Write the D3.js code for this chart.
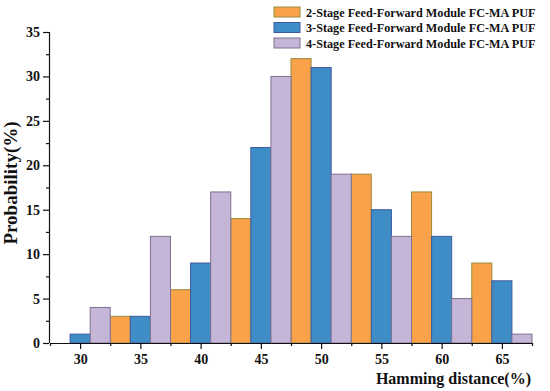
<!DOCTYPE html>
<html>
<head>
<meta charset="utf-8">
<script src="https://cdn.jsdelivr.net/npm/d3@7"></script>
<style>
  body { margin: 0; background: #fff; }
  svg { display: block; }
  text { font-family: "Liberation Serif", "Times New Roman", serif !important; font-weight: bold; fill: #111; }
</style>
</head>
<body>
<div id="chart"></div>
<script>
const categories = [30, 35, 40, 45, 50, 55, 60, 65];
const seriesNames = [
  "2-Stage Feed-Forward Module FC-MA PUF",
  "3-Stage Feed-Forward Module FC-MA PUF",
  "4-Stage Feed-Forward Module FC-MA PUF"
];
const stage2 = [0, 3, 6, 14, 32, 19, 17, 9];
const stage3 = [1, 3, 9, 22, 31, 15, 12, 7];
const stage4 = [4, 12, 17, 30, 19, 12, 5, 1];
const yTicks = [0, 5, 10, 15, 20, 25, 30, 35];
const xTicks = [30, 35, 40, 45, 50, 55, 60, 65];

const fills = ["#F9A24A", "#3F8DC6", "#C5B6D8"];
const strokes = ["#9C8A3C", "#3E5A9E", "#7E7090"];
const series = [stage2, stage3, stage4];

const W = 550, H = 391;
const svg = d3.select("#chart").append("svg").attr("width", W).attr("height", H);

const x = d3.scaleLinear().domain([27.5, 67.5]).range([50, 532]);
const y = d3.scaleLinear().domain([0, 35]).range([343, 32]);
const barW = 5 / 3;

// bars
series.forEach((vals, si) => {
  svg.append("g").selectAll("rect")
    .data(categories.map((c, i) => ({ c, v: vals[i] })).filter(d => d.v > 0))
    .join("rect")
    .attr("x", d => x(d.c - 2.5 + si * barW))
    .attr("width", d => x(d.c - 2.5 + (si + 1) * barW) - x(d.c - 2.5 + si * barW))
    .attr("y", d => y(d.v))
    .attr("height", d => y(0) - y(d.v))
    .attr("fill", fills[si])
    .attr("stroke", strokes[si])
    .attr("stroke-width", 1);
});

// y axis
const yAxis = svg.append("g").attr("transform", "translate(49,0)")
  .call(d3.axisLeft(y).tickValues(yTicks).tickSize(6).tickPadding(3));
svg.append("g").attr("transform", "translate(49,0)")
  .call(d3.axisLeft(y).tickValues(d3.range(2.5, 35, 5)).tickSize(3).tickFormat(""))
  .select(".domain").remove();

// x axis
const xAxis = svg.append("g").attr("transform", "translate(0,343)")
  .call(d3.axisBottom(x).tickValues(xTicks).tickSize(6).tickPadding(5).tickSizeOuter(0));
svg.append("g").attr("transform", "translate(0,343)")
  .call(d3.axisBottom(x).tickValues(d3.range(27.5, 68, 5)).tickSize(3).tickFormat(""))
  .select(".domain").remove();

svg.selectAll("g").attr("font-family", null).attr("font-size", null);
svg.selectAll(".tick text")
  .style("font-size", "14px").attr("fill", "#111");
svg.selectAll(".domain, .tick line").attr("stroke", "#111").attr("stroke-width", 1.2);
yAxis.select(".domain").attr("d", "M0.5,343V32");

// axis titles
svg.append("text")
  .attr("transform", "translate(17,183) rotate(-90)")
  .attr("text-anchor", "middle")
  .style("font-size", "19px")
  .text("Probability(%)");
svg.append("text")
  .attr("x", 531).attr("y", 384)
  .attr("text-anchor", "end")
  .style("font-size", "16px")
  .text("Hamming distance(%)");

// legend
const lg = svg.append("g");
seriesNames.forEach((name, i) => {
  const yy = 12 + i * 15.5;
  lg.append("rect").attr("x", 274).attr("y", yy - 5).attr("width", 26).attr("height", 10)
    .attr("fill", fills[i]).attr("stroke", strokes[i]);
  lg.append("text").attr("x", 306).attr("y", yy + 4.5)
    .style("font-size", "12.2px").text(name);
});
</script>
</body>
</html>
